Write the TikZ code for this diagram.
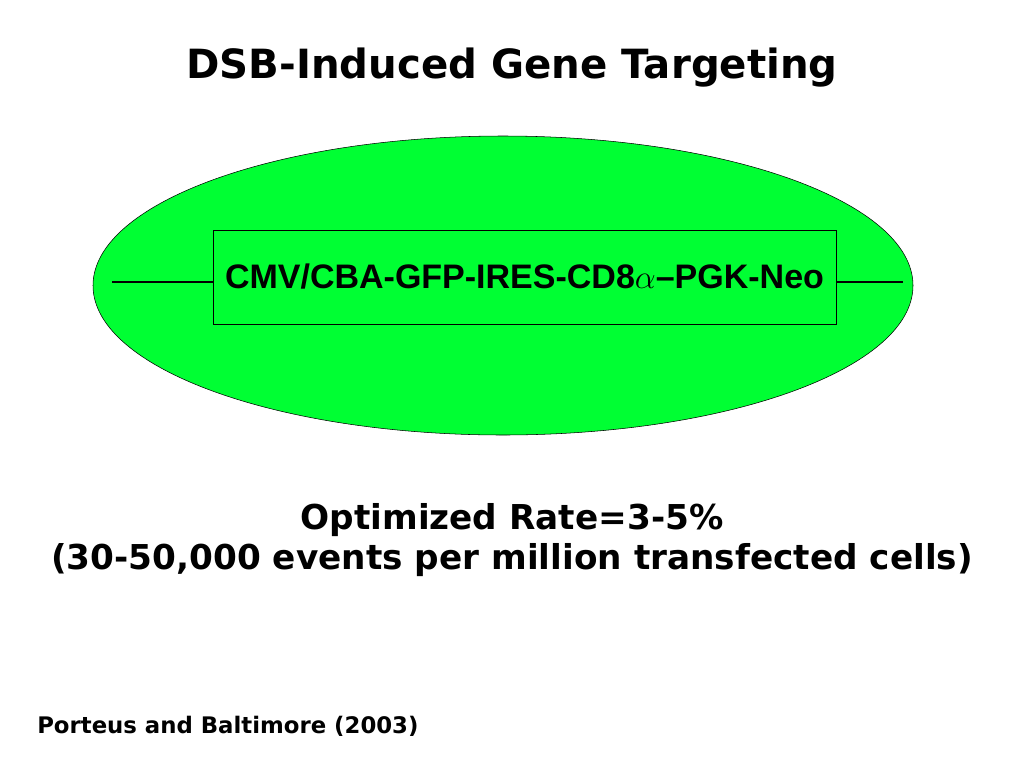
\documentclass[tikz,border=0pt]{standalone}
\usepackage{fontspec}
\setmainfont{DejaVu Sans}
\newfontfamily\arialfont{Liberation Sans}
\usepackage{tikz}
\usetikzlibrary{shapes,positioning}
\definecolor{cellgreen}{RGB}{0,255,51}

\begin{document}
\begin{tikzpicture}[x=0.75pt, y=-0.75pt,
      every node/.append style={inner sep=0pt, font=\bfseries},
      construct/.style={draw, thin, minimum width=467.25pt, minimum height=70.5pt,
        font=\arialfont\bfseries\fontsize{25.5}{30}\selectfont}]
    \useasboundingbox (0,0) rectangle (1024,768);
    \node (title) at (512,68) {\fontsize{30.2}{36}\selectfont DSB-Induced Gene Targeting};
    \node (cell) [ellipse, draw, thin, fill=cellgreen, minimum width=615pt, minimum height=224.25pt]
      at (503,285.5) {};
    \node (box) [construct] at (524.5,277) {CMV/CBA-GFP-IRES-CD8$\alpha$–PGK-Neo};
    \coordinate (leftend) at (112,282);
    \coordinate (rightend) at (903,282);
    \draw[line width=1.1pt] (leftend) -- (leftend -| box.west);
    \draw[line width=1.1pt] (rightend -| box.east) -- (rightend);
    \node (rate) [align=center, font=\bfseries\fontsize{25.7}{30}\selectfont] at (512,540)
      {Optimized Rate=3-5\%\\(30-50,000 events per million transfected cells)};
    \node (ref) [anchor=west, font=\bfseries\fontsize{17.1}{20}\selectfont] at (37,726)
      {Porteus and Baltimore (2003)};
  \end{tikzpicture}
\end{document}
